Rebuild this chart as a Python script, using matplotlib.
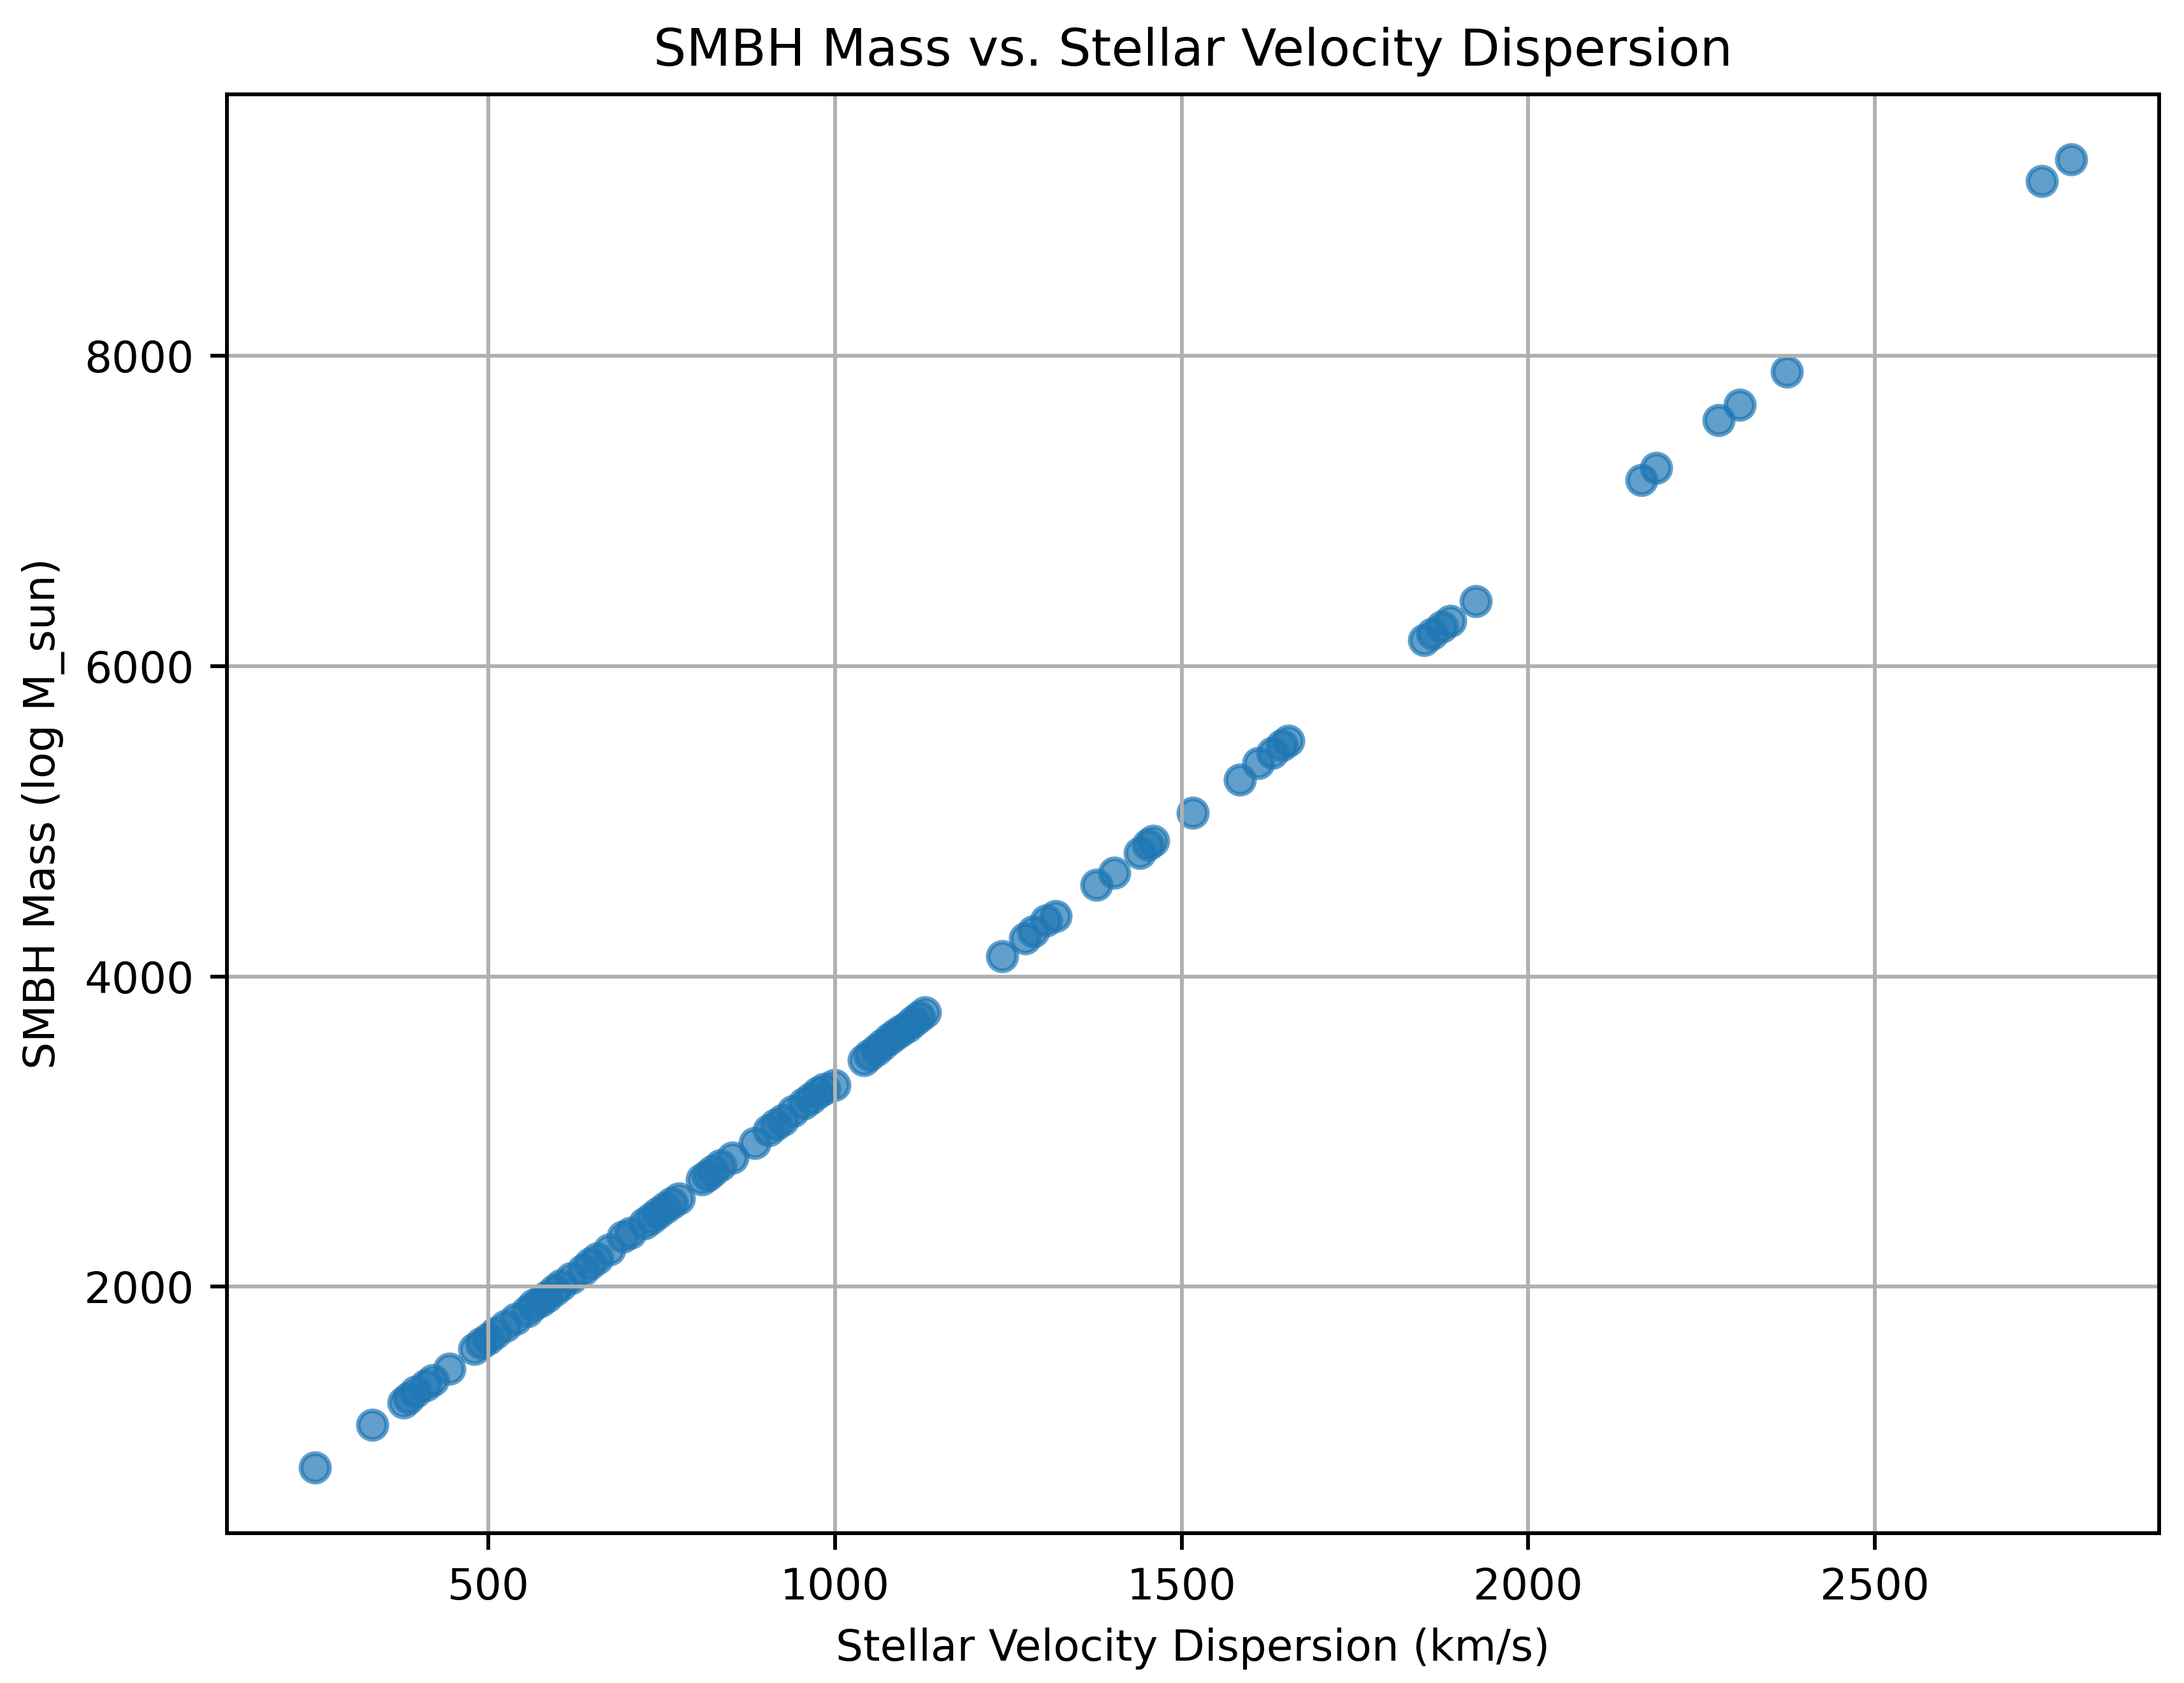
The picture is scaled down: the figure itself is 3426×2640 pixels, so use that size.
import numpy as np
import matplotlib.pyplot as plt

# values
velocity_dispersion = [
    250, 333, 378, 385, 395, 410, 420, 444, 480, 490,
    500, 510, 525, 540, 556, 565, 575, 585, 596, 605,
    620, 637, 647, 657, 675, 694, 705, 725, 735, 745,
    755, 765, 775, 808, 816, 824, 835, 852, 884, 905,
    915, 925, 940, 955, 965, 975, 985, 999, 1042, 1050,
    1060, 1068, 1078, 1087, 1095, 1105, 1113, 1122, 1130, 1241,
    1274, 1286, 1305, 1318, 1377, 1403, 1440, 1452, 1459, 1516,
    1584, 1611, 1631, 1645, 1654, 1850, 1862, 1876, 1888, 1924,
    2163, 2185, 2275, 2305, 2373, 2741, 2783,
]
smbh_mass = [
    832, 1110, 1255, 1280, 1322, 1365, 1395, 1470, 1600, 1635,
    1665, 1700, 1745, 1790, 1840, 1880, 1905, 1935, 1975, 2010,
    2055, 2110, 2150, 2180, 2240, 2320, 2345, 2410, 2440, 2475,
    2505, 2540, 2570, 2690, 2715, 2745, 2780, 2830, 2925, 3010,
    3045, 3075, 3130, 3180, 3215, 3250, 3275, 3300, 3460, 3495,
    3525, 3560, 3595, 3625, 3650, 3680, 3710, 3740, 3770, 4130,
    4245, 4290, 4360, 4390, 4590, 4670, 4795, 4850, 4875, 5055,
    5270, 5375, 5440, 5490, 5520, 6170, 6210, 6255, 6292, 6418,
    7200, 7280, 7586, 7684, 7900, 9130, 9266,
]

plt.rcParams["font.size"] = 9.1

dpi = 535.3
fig = plt.figure(figsize=(3426 / dpi, 2640 / dpi), dpi=dpi)
ax = fig.add_axes([0.104, 0.089, 0.8845, 0.855])

ax.scatter(np.array(velocity_dispersion), np.array(smbh_mass), alpha=0.7)
ax.set_title("SMBH Mass vs. Stellar Velocity Dispersion", fontsize=10.9)
ax.set_xlabel("Stellar Velocity Dispersion (km/s)")
ax.set_ylabel("SMBH Mass (log M_sun)")
ax.grid(True)

fig.savefig("out.png", dpi=dpi)
